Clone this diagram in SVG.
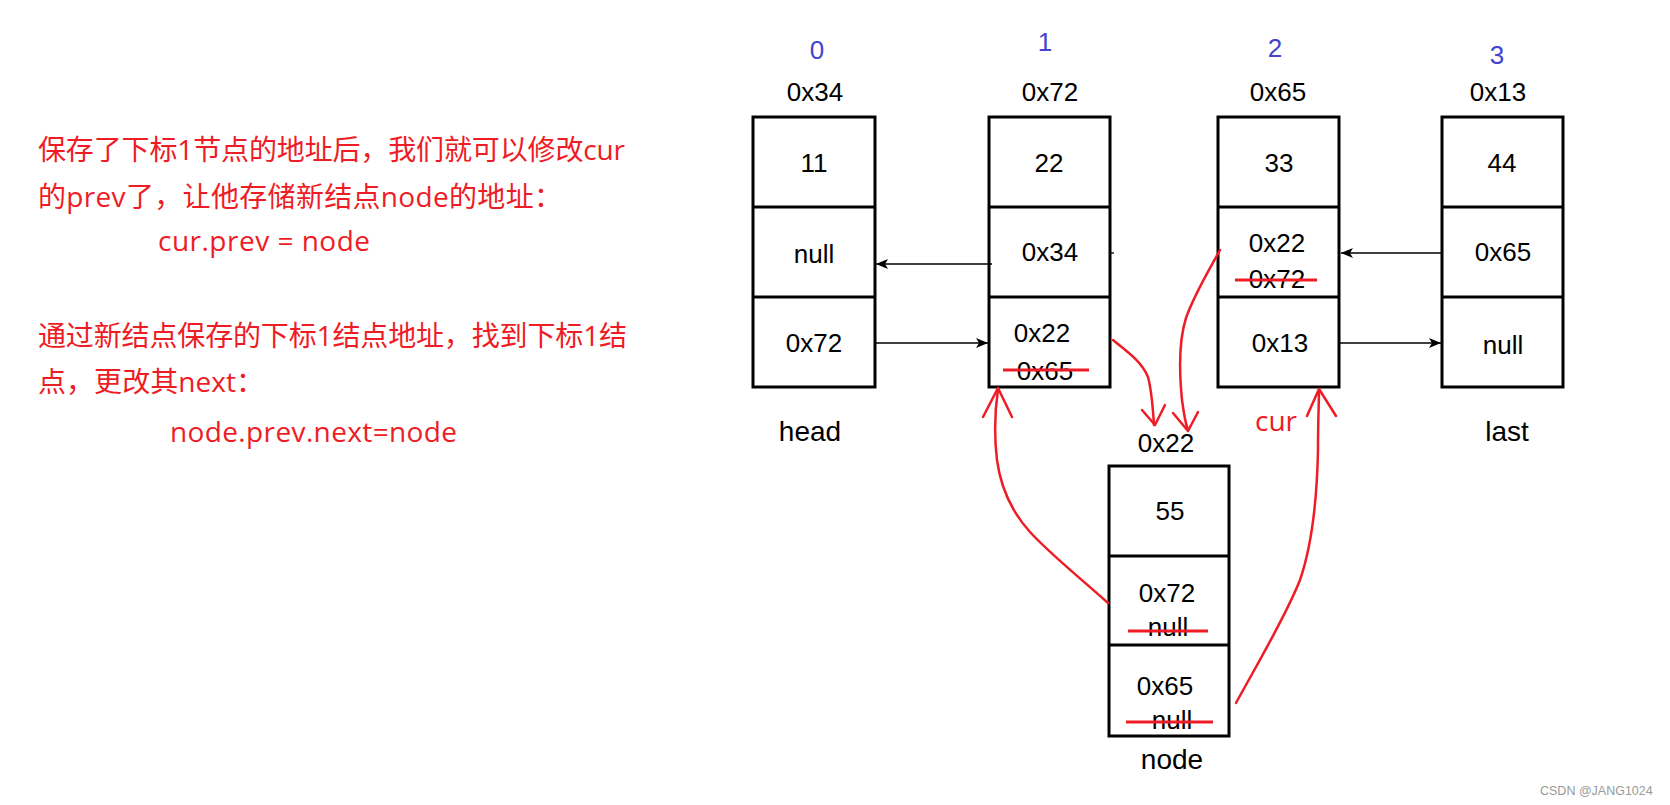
<svg xmlns="http://www.w3.org/2000/svg" width="1670" height="805" viewBox="0 0 1670 805">
<style>
.box{fill:#fff;stroke:#000;stroke-width:3}
.div{stroke:#000;stroke-width:3}
.t{font-family:"Liberation Sans",Arial,sans-serif;font-size:26px;fill:#000;text-anchor:middle}
.lbl{font-family:"Liberation Sans",Arial,sans-serif;font-size:28px;fill:#000;text-anchor:middle}
.idx{font-family:"Liberation Sans",Arial,sans-serif;font-size:26px;fill:#4343cf;text-anchor:middle}
.note{font-family:"Open Sans","Noto Sans CJK SC",sans-serif;font-size:28px;fill:#ee1c25}
.strike{stroke:#ee1c25;stroke-width:3}
.red{fill:none;stroke:#ee1c25;stroke-width:2.5;stroke-linecap:round;stroke-linejoin:round}
.conn{fill:none;stroke:#000;stroke-width:1.3}
.wm{font-family:"Liberation Sans",Arial,sans-serif;font-size:12.5px;fill:#9a9a9a}
</style>
<defs>
<marker id="arr" markerUnits="userSpaceOnUse" markerWidth="14" markerHeight="12" refX="12" refY="5" orient="auto">
<path d="M0,0 L12,5 L0,10 L3,5 z" fill="#000"/>
</marker>
</defs>
<rect width="1670" height="805" fill="#fff"/>

<g id="notes">
<text class="note" x="38" y="160" textLength="587" lengthAdjust="spacing">保存了下标1节点的地址后，我们就可以修改cur</text>
<text class="note" x="38" y="207" textLength="524" lengthAdjust="spacing">的prev了，让他存储新结点node的地址：</text>
<text class="note" x="158" y="251" textLength="212" lengthAdjust="spacing">cur.prev = node</text>
<text class="note" x="38" y="346" textLength="589" lengthAdjust="spacing">通过新结点保存的下标1结点地址，找到下标1结</text>
<text class="note" x="38" y="392" textLength="226" lengthAdjust="spacing">点，更改其next：</text>
<text class="note" x="170" y="442" textLength="287" lengthAdjust="spacing">node.prev.next=node</text>
</g>

<g id="node0">
<text class="idx" x="817" y="59">0</text>
<text class="t" x="815" y="101">0x34</text>
<rect class="box" x="753" y="117" width="122" height="270"/>
<line class="div" x1="753" y1="207" x2="875" y2="207"/>
<line class="div" x1="753" y1="297" x2="875" y2="297"/>
<text class="t" x="814" y="172">11</text>
<text class="t" x="814" y="263">null</text>
<text class="t" x="814" y="352">0x72</text>
<text class="lbl" x="810" y="441">head</text>
</g>

<g id="node1">
<text class="idx" x="1045" y="51">1</text>
<text class="t" x="1050" y="101">0x72</text>
<rect class="box" x="989" y="117" width="121" height="270"/>
<line class="div" x1="989" y1="207" x2="1110" y2="207"/>
<line class="div" x1="989" y1="297" x2="1110" y2="297"/>
<text class="t" x="1049" y="172">22</text>
<text class="t" x="1050" y="261">0x34</text>
<text class="t" x="1042" y="342">0x22</text>
<text class="t" x="1045" y="380">0x65</text>
<line class="strike" x1="1003" y1="370" x2="1089" y2="370"/>
</g>

<g id="node2">
<text class="idx" x="1275" y="57">2</text>
<text class="t" x="1278" y="101">0x65</text>
<rect class="box" x="1218" y="117" width="121" height="270"/>
<line class="div" x1="1218" y1="207" x2="1339" y2="207"/>
<line class="div" x1="1218" y1="297" x2="1339" y2="297"/>
<text class="t" x="1279" y="172">33</text>
<text class="t" x="1277" y="252">0x22</text>
<text class="t" x="1277" y="288">0x72</text>
<line class="strike" x1="1235" y1="280" x2="1317" y2="280"/>
<text class="t" x="1280" y="352">0x13</text>
<text class="note" x="1276" y="431" text-anchor="middle" style="font-size:28px">cur</text>
</g>

<g id="node3">
<text class="idx" x="1497" y="64">3</text>
<text class="t" x="1498" y="101">0x13</text>
<rect class="box" x="1442" y="117" width="121" height="270"/>
<line class="div" x1="1442" y1="207" x2="1563" y2="207"/>
<line class="div" x1="1442" y1="297" x2="1563" y2="297"/>
<text class="t" x="1502" y="172">44</text>
<text class="t" x="1503" y="261">0x65</text>
<text class="t" x="1503" y="354">null</text>
<text class="lbl" x="1507" y="441">last</text>
</g>

<g id="newnode">
<text class="t" x="1166" y="452">0x22</text>
<rect class="box" x="1109" y="466" width="120" height="270"/>
<line class="div" x1="1109" y1="556" x2="1229" y2="556"/>
<line class="div" x1="1109" y1="645" x2="1229" y2="645"/>
<text class="t" x="1170" y="520">55</text>
<text class="t" x="1167" y="602">0x72</text>
<text class="t" x="1168" y="636">null</text>
<line class="strike" x1="1128" y1="631" x2="1208" y2="631"/>
<text class="t" x="1165" y="695">0x65</text>
<text class="t" x="1172" y="729">null</text>
<line class="strike" x1="1126" y1="722" x2="1213" y2="722"/>
<text class="lbl" x="1172" y="769">node</text>
</g>

<g id="connectors">
<line class="conn" x1="992" y1="264" x2="876" y2="264" marker-end="url(#arr)"/>
<line class="conn" x1="875" y1="343" x2="988" y2="343" marker-end="url(#arr)"/>
<line class="conn" x1="1442" y1="253" x2="1341" y2="253" marker-end="url(#arr)"/>
<line class="conn" x1="1339" y1="343" x2="1441" y2="343" marker-end="url(#arr)"/>
<line class="conn" x1="1111" y1="253" x2="1114" y2="253"/>
<path class="red" d="M1108,603 C1080,578 1048,552 1030,532 C1012,512 1001,490 997,460 C994,435 995,410 998,389"/>
<path class="red" d="M983,417 L998,388 L1012,417"/>
<path class="red" d="M1236,703 C1255,668 1285,618 1300,580 C1312,545 1317,500 1318,450 C1318,420 1319,400 1319,390"/>
<path class="red" d="M1307,416 L1319,389 L1336,416"/>
<path class="red" d="M1113,340 C1128,352 1142,362 1148,377 C1152,392 1153,410 1154,425"/>
<path class="red" d="M1142,410 L1155,425 L1165,405"/>
<path class="red" d="M1220,250 C1208,272 1194,295 1186,318 C1179,340 1179,370 1182,400 C1184,415 1186,425 1188,430"/>
<path class="red" d="M1173,413 L1188,431 L1198,412"/>
</g>

<text class="wm" x="1540" y="795">CSDN @JANG1024</text>
</svg>
